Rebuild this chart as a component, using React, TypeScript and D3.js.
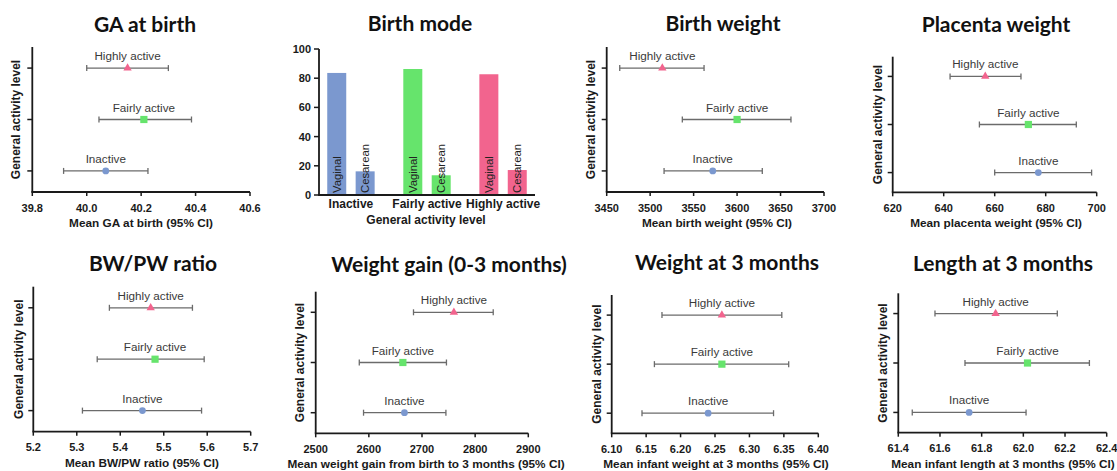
import React from "react";
import * as d3 from "d3";

// ---------- DATA ----------
const activityLevels = ["Highly active", "Fairly active", "Inactive"];

const gaMean = [40.15, 40.21, 40.07];
const gaLow = [40.0, 40.045, 39.915];
const gaHigh = [40.3, 40.385, 40.225];
const gaTicks = [39.8, 40.0, 40.2, 40.4, 40.6];

const bwMean = [3514, 3600, 3572];
const bwLow = [3465, 3537, 3516];
const bwHigh = [3562, 3662, 3629];
const bwTicks = [3450, 3500, 3550, 3600, 3650, 3700];

const pwMean = [656.3, 673.2, 677.1];
const pwLow = [642.5, 654, 660];
const pwHigh = [670.3, 692, 698];
const pwTicks = [620, 640, 660, 680, 700];

const ratioMean = [5.47, 5.48, 5.451];
const ratioLow = [5.375, 5.347, 5.313];
const ratioHigh = [5.566, 5.593, 5.587];
const ratioTicks = [5.2, 5.3, 5.4, 5.5, 5.6, 5.7];

const gainMean = [2760, 2664, 2667];
const gainLow = [2684, 2582, 2590];
const gainHigh = [2834, 2746, 2745];
const gainTicks = [2500, 2600, 2700, 2800, 2900];

const w3Mean = [6.26, 6.26, 6.24];
const w3Low = [6.173, 6.162, 6.144];
const w3High = [6.347, 6.357, 6.335];
const w3Ticks = [6.1, 6.15, 6.2, 6.25, 6.3, 6.35, 6.4];

const l3Mean = [61.867, 62.02, 61.74];
const l3Low = [61.576, 61.72, 61.467];
const l3High = [62.163, 62.317, 62.013];
const l3Ticks = [61.4, 61.6, 61.8, 62.0, 62.2, 62.4];

const modeCategories = ["Inactive", "Fairly active", "Highly active"];
const vaginalPct = [83.6, 86.3, 82.7];
const cesareanPct = [16.2, 13.5, 17.1];
const modeTicks = [0, 20, 40, 60, 80, 100];

// ---------- STYLE ----------
const COLORS: Record<string, string> = {
  "Highly active": "#f2648e",
  "Fairly active": "#66e46c",
  Inactive: "#7b98cf",
};
const TITLE_FONT = "Lato, 'Open Sans', sans-serif";
const AXIS_FONT = "'Liberation Sans', Arial, sans-serif";
const INK = "#1a1a1a";

type Panel = {
  title: string;
  xlabel: string;
  mean: number[];
  low: number[];
  high: number[];
  ticks: number[];
  fmt: string;
  layout: { x0: number; x1: number; yTop: number; yBot: number; titleX: number; titleY: number; ylabX: number; xlabX: number };
};

const panels: Panel[] = [
  { title: "GA at birth", xlabel: "Mean GA at birth  (95% CI)", mean: gaMean, low: gaLow, high: gaHigh, ticks: gaTicks, fmt: ".1f",
    layout: { x0: 32.3, x1: 250, yTop: 47, yBot: 192, titleX: 145, titleY: 32, ylabX: 16, xlabX: 141 } },
  { title: "Birth weight", xlabel: "Mean birth weight (95% CI)", mean: bwMean, low: bwLow, high: bwHigh, ticks: bwTicks, fmt: "d",
    layout: { x0: 606.7, x1: 824, yTop: 47, yBot: 192, titleX: 723, titleY: 31, ylabX: 591, xlabX: 717 } },
  { title: "Placenta weight", xlabel: "Mean placenta weight (95% CI)", mean: pwMean, low: pwLow, high: pwHigh, ticks: pwTicks, fmt: "d",
    layout: { x0: 892.7, x1: 1096.7, yTop: 56.7, yBot: 192.3, titleX: 996, titleY: 32, ylabX: 878, xlabX: 996 } },
  { title: "BW/PW ratio", xlabel: "Mean BW/PW ratio (95% CI)", mean: ratioMean, low: ratioLow, high: ratioHigh, ticks: ratioTicks, fmt: ".1f",
    layout: { x0: 33.3, x1: 250.7, yTop: 286.7, yBot: 431.7, titleX: 153, titleY: 270.5, ylabX: 19, xlabX: 142 } },
  { title: "Weight gain (0-3 months)", xlabel: "Mean weight gain from birth to 3 months (95% CI)", mean: gainMean, low: gainLow, high: gainHigh, ticks: gainTicks, fmt: "d",
    layout: { x0: 315.7, x1: 528.3, yTop: 291.7, yBot: 433.3, titleX: 449, titleY: 271.5, ylabX: 300, xlabX: 426 } },
  { title: "Weight at 3 months", xlabel: "Mean infant weight at 3 months (95% CI)", mean: w3Mean, low: w3Low, high: w3High, ticks: w3Ticks, fmt: ".2f",
    layout: { x0: 611.7, x1: 818.3, yTop: 295, yBot: 433.3, titleX: 727, titleY: 270, ylabX: 597, xlabX: 716 } },
  { title: "Length at 3 months", xlabel: "Mean infant length at 3 months (95% CI)", mean: l3Mean, low: l3Low, high: l3High, ticks: l3Ticks, fmt: ".1f",
    layout: { x0: 898.3, x1: 1106.7, yTop: 293.3, yBot: 432.7, titleX: 1003, titleY: 271, ylabX: 883, xlabX: 1003 } },
];

function Marker({ cat, x, y }: { cat: string; x: number; y: number }) {
  const c = COLORS[cat];
  if (cat === "Highly active") {
    const sym = d3.symbol().type(d3.symbolTriangle).size(30)();
    return <path d={sym || ""} transform={`translate(${x},${y})`} fill={c} />;
  }
  if (cat === "Fairly active") {
    return <rect x={x - 3.6} y={y - 3.6} width={7.2} height={7.2} fill={c} />;
  }
  return <circle cx={x} cy={y} r={3.4} fill={c} />;
}

function ForestPanel({ p }: { p: Panel }) {
  const L = p.layout;
  const x = d3.scaleLinear().domain([p.ticks[0], p.ticks[p.ticks.length - 1]]).range([L.x0, L.x1]);
  const y = d3.scalePoint<string>().domain(activityLevels).range([L.yTop, L.yBot]).padding(0.41);
  const f = d3.format(p.fmt);
  return (
    <g>
      <text x={L.titleX} y={L.titleY} textAnchor="middle" fontFamily={TITLE_FONT} fontWeight={700} fontSize={21} fill="#111">
        {p.title}
      </text>
      {/* y axis */}
      <line x1={L.x0} x2={L.x0} y1={L.yTop} y2={L.yBot} stroke={INK} strokeWidth={1.8} />
      {activityLevels.map((c) => (
        <line key={c} x1={L.x0 - 5} x2={L.x0} y1={y(c)} y2={y(c)} stroke={INK} strokeWidth={1.5} />
      ))}
      <text
        transform={`translate(${L.ylabX},${(L.yTop + L.yBot) / 2}) rotate(-90)`}
        textAnchor="middle"
        dominantBaseline="central"
        fontFamily={AXIS_FONT}
        fontWeight={700}
        fontSize={12}
        fill={INK}
      >
        General activity level
      </text>
      {/* x axis */}
      <line x1={L.x0 - 0.9} x2={L.x1} y1={L.yBot} y2={L.yBot} stroke={INK} strokeWidth={1.8} />
      {p.ticks.map((t) => (
        <g key={t}>
          <line x1={x(t)} x2={x(t)} y1={L.yBot} y2={L.yBot + 4} stroke={INK} strokeWidth={1.5} />
          <text x={x(t)} y={L.yBot + 19.5} textAnchor="middle" fontFamily={AXIS_FONT} fontWeight={700} fontSize={11} fill={INK}>
            {f(t)}
          </text>
        </g>
      ))}
      <text x={L.xlabX} y={L.yBot + 35} textAnchor="middle" fontFamily={AXIS_FONT} fontWeight={700} fontSize={11.8} fill={INK}>
        {p.xlabel}
      </text>
      {/* error bars */}
      {activityLevels.map((c, i) => {
        const yy = y(c) as number;
        return (
          <g key={c}>
            <line x1={x(p.low[i])} x2={x(p.high[i])} y1={yy} y2={yy} stroke="#6b6b6b" strokeWidth={1.3} />
            <line x1={x(p.low[i])} x2={x(p.low[i])} y1={yy - 3} y2={yy + 3} stroke="#6b6b6b" strokeWidth={1.3} />
            <line x1={x(p.high[i])} x2={x(p.high[i])} y1={yy - 3} y2={yy + 3} stroke="#6b6b6b" strokeWidth={1.3} />
            <Marker cat={c} x={x(p.mean[i])} y={yy} />
            <text x={x(p.mean[i])} y={yy - 8} textAnchor="middle" fontFamily={AXIS_FONT} fontSize={11.7} fill="#3a3a3a">
              {c}
            </text>
          </g>
        );
      })}
    </g>
  );
}

function BirthModePanel() {
  const x0 = 319, x1 = 535, yTop = 49, yBot = 195;
  const y = d3.scaleLinear().domain([0, 100]).range([yBot, yTop]);
  const xc = d3.scalePoint<string>().domain(modeCategories).range([x0, x1]).padding(0.42);
  const barW = 19;
  const off = 14.2;
  const modeColors = modeCategories.map((c) => COLORS[c]);
  return (
    <g>
      <text x={420} y={31} textAnchor="middle" fontFamily={TITLE_FONT} fontWeight={700} fontSize={21} fill="#111">
        Birth mode
      </text>
      {modeCategories.map((c, i) => {
        const cx = xc(c) as number;
        const bars = [
          { label: "Vaginal", v: vaginalPct[i], cx: cx - off },
          { label: "Cesarean", v: cesareanPct[i], cx: cx + off },
        ];
        return (
          <g key={c}>
            {bars.map((b) => (
              <g key={b.label}>
                <rect x={b.cx - barW / 2} y={y(b.v)} width={barW} height={yBot - y(b.v)} fill={modeColors[i]} />
                <text
                  transform={`translate(${b.cx},${yBot - 2}) rotate(-90)`}
                  dominantBaseline="central"
                  fontFamily={AXIS_FONT}
                  fontSize={11.3}
                  fill="#222"
                >
                  {b.label}
                </text>
              </g>
            ))}
            <text x={cx} y={207.5} textAnchor="middle" fontFamily={AXIS_FONT} fontWeight={700} fontSize={12} fill={INK}>
              {c}
            </text>
          </g>
        );
      })}
      <line x1={x0} x2={x0} y1={yTop} y2={yBot} stroke={INK} strokeWidth={1.8} />
      <line x1={x0 - 0.9} x2={x1} y1={yBot} y2={yBot} stroke={INK} strokeWidth={1.8} />
      {modeTicks.map((t) => (
        <g key={t}>
          <line x1={x0 - 5} x2={x0} y1={y(t)} y2={y(t)} stroke={INK} strokeWidth={1.5} />
          <text x={x0 - 8} y={y(t)} textAnchor="end" dominantBaseline="central" fontFamily={AXIS_FONT} fontWeight={700} fontSize={11} fill={INK}>
            {t}
          </text>
        </g>
      ))}
      <text x={426} y={224} textAnchor="middle" fontFamily={AXIS_FONT} fontWeight={700} fontSize={12} fill={INK}>
        General activity level
      </text>
    </g>
  );
}

export default function App() {
  return (
    <svg
      width={1117}
      height={471}
      style={{ position: "absolute", left: 0, top: 0, background: "#fff" }}
    >
      <rect width={1117} height={471} fill="#fff" />
      <BirthModePanel />
      {panels.map((p) => (
        <ForestPanel key={p.title} p={p} />
      ))}
    </svg>
  );
}
